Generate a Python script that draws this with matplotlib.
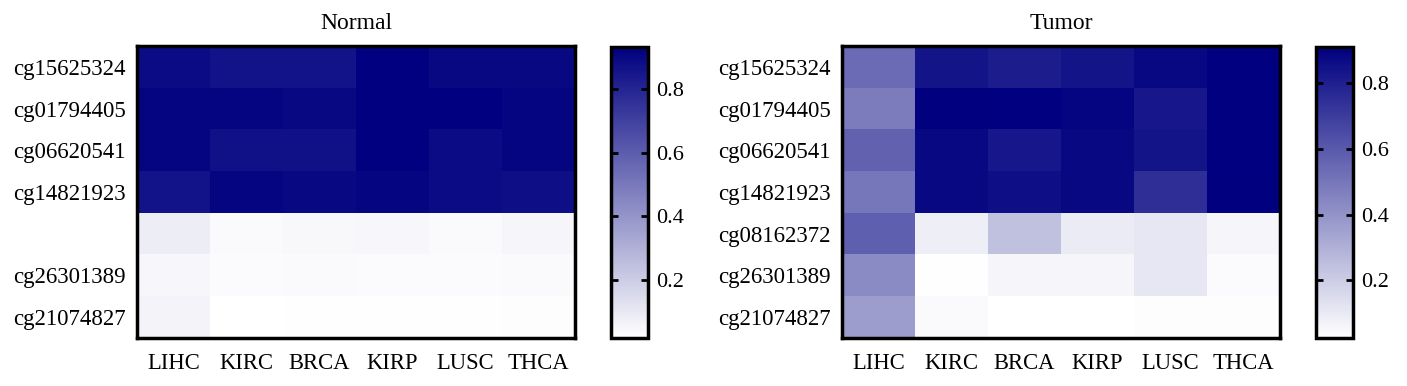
import matplotlib
matplotlib.use("Agg")
import matplotlib.pyplot as plt
import numpy as np
from matplotlib.colors import LinearSegmentedColormap

plt.rcParams['font.family'] = ['Liberation Serif', 'DejaVu Serif']

cancers = ["LIHC", "KIRC", "BRCA", "KIRP", "LUSC", "THCA"]
probes = ["cg15625324", "cg01794405", "cg06620541", "cg14821923",
          "cg08162372", "cg26301389", "cg21074827"]
normal_labels = ["cg15625324", "cg01794405", "cg06620541", "cg14821923",
                 "", "cg26301389", "cg21074827"]

normal = [
    [0.89, 0.86, 0.86, 0.93, 0.90, 0.90],
    [0.91, 0.91, 0.90, 0.93, 0.93, 0.91],
    [0.91, 0.87, 0.87, 0.93, 0.89, 0.91],
    [0.86, 0.91, 0.90, 0.91, 0.89, 0.88],
    [0.085, 0.04, 0.045, 0.05, 0.04, 0.055],
    [0.05, 0.035, 0.04, 0.035, 0.035, 0.04],
    [0.065, 0.02, 0.025, 0.025, 0.025, 0.03],
]
tumor = [
    [0.54, 0.84, 0.81, 0.84, 0.88, 0.91],
    [0.48, 0.90, 0.92, 0.89, 0.83, 0.92],
    [0.57, 0.88, 0.83, 0.88, 0.84, 0.92],
    [0.50, 0.88, 0.86, 0.88, 0.75, 0.90],
    [0.58, 0.085, 0.245, 0.095, 0.11, 0.06],
    [0.43, 0.03, 0.06, 0.06, 0.11, 0.04],
    [0.37, 0.045, 0.025, 0.02, 0.035, 0.035],
]

cmap = LinearSegmentedColormap.from_list("wn", ["#ffffff", "#000080"])

W, H = 1407, 386
fig = plt.figure(figsize=(W / 100, H / 100), dpi=100)

def px(l, t, r, b):
    return [l / W, 1 - b / H, (r - l) / W, (b - t) / H]

panels = [
    ("Normal", normal, normal_labels, (137, 46, 575, 338), (611, 47, 648, 338), 0.02, 0.93),
    ("Tumor", tumor, probes, (842, 46, 1280, 338), (1316, 47, 1353, 338), 0.025, 0.91),
]

for title, data, ylabels, axbox, cbbox, vmin, vmax in panels:
    ax = fig.add_axes(px(*axbox))
    im = ax.imshow(np.array(data), cmap=cmap, vmin=vmin, vmax=vmax,
                   aspect='auto', interpolation='nearest')
    ax.set_xticks(range(len(cancers)))
    ax.set_xticklabels(cancers, fontsize=16.3)
    ax.set_yticks(range(len(ylabels)))
    ax.set_yticklabels(ylabels, fontsize=16.5)
    ax.tick_params(axis='y', length=0, pad=8)
    ax.tick_params(axis='x', length=0, pad=11)
    for s in ax.spines.values():
        s.set_linewidth(2.5)
    ax.set_title(title, fontsize=17, pad=12)

    cax = fig.add_axes(px(*cbbox))
    cb = fig.colorbar(im, cax=cax)
    cb.set_ticks([0.2, 0.4, 0.6, 0.8])
    cb.ax.tick_params(direction='in', left=True, right=True, length=5,
                      width=2, labelsize=16, pad=6)
    cb.outline.set_linewidth(2.5)

fig.savefig("out.png", dpi=100)
